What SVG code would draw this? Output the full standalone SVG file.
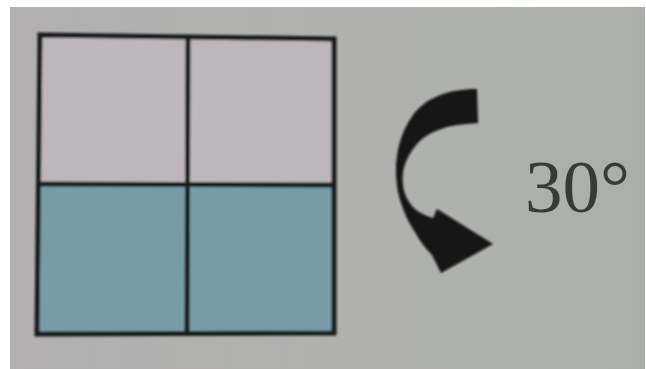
<svg xmlns="http://www.w3.org/2000/svg" width="646" height="369" viewBox="0 0 646 369">
<defs>
<linearGradient id="bg" x1="0" y1="0" x2="1" y2="0">
<stop offset="0" stop-color="#b2b0b1"/>
<stop offset="0.6" stop-color="#b0b1ae"/>
<stop offset="1" stop-color="#aab0a9"/>
</linearGradient>
<filter id="blur" x="-10%" y="-10%" width="120%" height="120%"><feGaussianBlur stdDeviation="0.9"/></filter>
</defs>
<style>
.grid{fill:none;stroke:#171b1d;stroke-width:5;stroke-linejoin:miter}
.top{fill:#bdb6bb}
.bot{fill:#789ca5}
.lbl{font-family:"Liberation Serif","Times New Roman",serif;font-size:75px;fill:#383a3a}
</style>
<rect x="0" y="0" width="646" height="369" fill="#ffffff"/>
<rect x="10" y="7" width="635" height="362" fill="url(#bg)"/>
<g id="square" filter="url(#blur)">
<polygon class="top" points="40,35 334,39 334,185 39,184"/>
<polygon class="bot" points="39,184 334,185 334,333 37,334"/>
<polygon class="grid" points="40,35 334,39 334,333 37,334"/>
<line class="grid" x1="188" y1="37" x2="187" y2="334"/>
<line class="grid" x1="39" y1="184" x2="334" y2="185"/>
</g>
<g id="arrow" filter="url(#blur)">
<path fill="#121212" d="M477 89 L478 123 C465 124 455 125 447 127 C437 130 428 134 422 139 C414 146 408 155 404 167 C402 175 402 186 405 194 C408 202 413 208 419 212 C424 215 429 217 433 218 L437 209 L493 244 L441 273 L432 255 C425 248 420 241 415 232 C408 222 402 208 399 196 C396 184 395 168 397 156 C399 142 404 128 411 118 C418 107 428 100 438 96 C450 91 462 89 477 89 Z"/>
</g>
<g id="label">
<text class="lbl" x="525" y="212">30°</text>
</g>
</svg>
